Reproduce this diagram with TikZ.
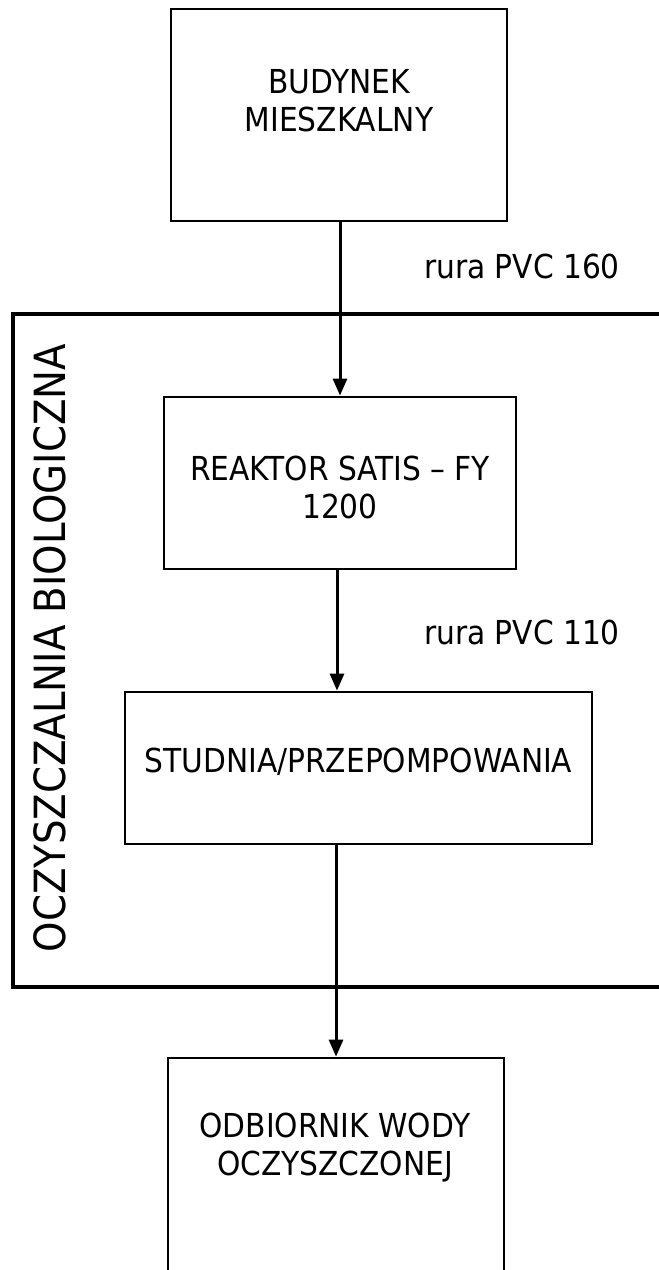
\documentclass[tikz,border=0pt]{standalone}
\usepackage{fontspec}
\setmainfont{DejaVu Sans Condensed}
\usetikzlibrary{arrows.meta}
\begin{document}
\begin{tikzpicture}[x=1pt,y=-1pt,
  box/.style={draw, line width=2.8pt, inner sep=0pt},
  lbl/.style={font=\fontsize{33}{38}\selectfont, align=center, inner sep=0pt},
  arr/.style={line width=3pt, -{Triangle[length=17pt,width=14pt]}}]
\useasboundingbox (0,0) rectangle (659,1270);
% outer frame (right side runs off the page)
\node[draw, line width=3.2pt, inner sep=0pt, minimum width=667pt, minimum height=673pt] (frame) at (346.5,650.5) {};
\node[lbl, font=\fontsize{43}{48}\selectfont, rotate=90] (frametitle) at (50,648) {OCZYSZCZALNIA BIOLOGICZNA};
% boxes
\node[box, minimum width=336pt, minimum height=212pt] (house) at (339,115) {};
\node[lbl] (houset) at (339,100.5) {BUDYNEK\\MIESZKALNY};
\node[box, minimum width=352pt, minimum height=172pt] (reactor) at (340,483) {};
\node[lbl] (reactort) at (340,487) {REAKTOR SATIS – FY\\1200};
\node[box, minimum width=467pt, minimum height=152pt] (well) at (358.5,768) {};
\node[lbl] (wellt) at (358.5,762) {STUDNIA/PRZEPOMPOWANIA};
\node[box, minimum width=336pt, minimum height=232pt] (sink) at (336,1174) {};
\node[lbl] (sinkt) at (335,1147.5) {ODBIORNIK WODY\\OCZYSZCZONEJ};
% pipe labels
\node[lbl] (pipe1) at (522,266) {rura PVC 160};
\node[lbl] (pipe2) at (522,632) {rura PVC 110};
% connectors
\draw[arr] ([xshift=1pt]house.south) -- ([xshift=1pt]house.south |- reactor.north);
\draw[arr] ([xshift=-3pt]reactor.south) -- ([xshift=-3pt]reactor.south |- well.north);
\draw[arr] (sink.north |- well.south) -- (sink.north);
\end{tikzpicture}
\end{document}
